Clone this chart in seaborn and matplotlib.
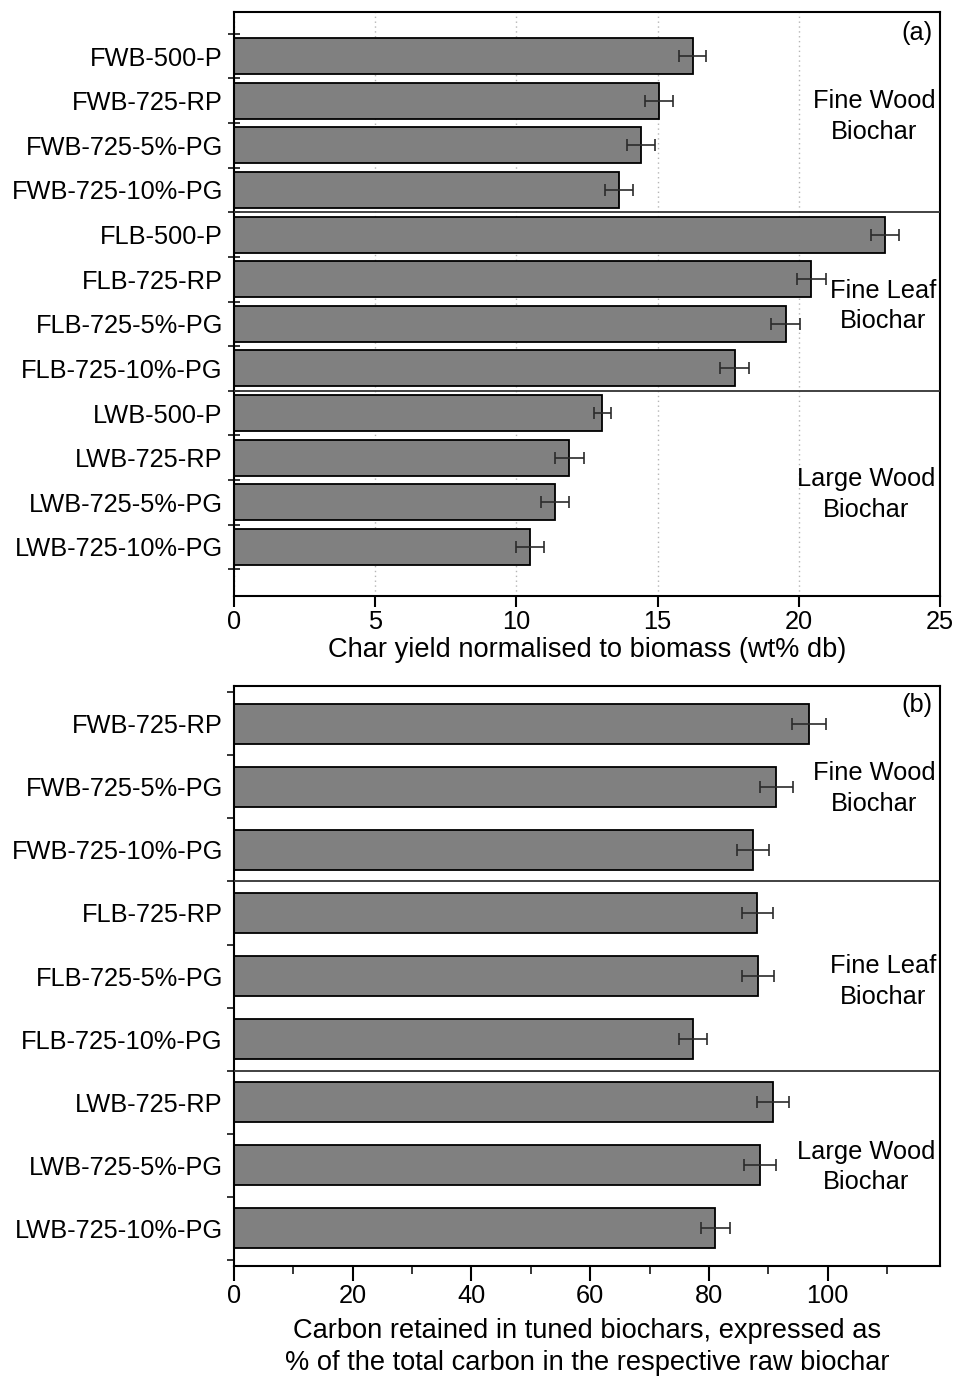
import numpy as np
import pandas as pd
import seaborn as sns
import matplotlib.pyplot as plt
from matplotlib.ticker import FixedLocator, MultipleLocator

# ---- data ----
cats_a = ["FWB-500-P", "FWB-725-RP", "FWB-725-5%-PG", "FWB-725-10%-PG",
          "FLB-500-P", "FLB-725-RP", "FLB-725-5%-PG", "FLB-725-10%-PG",
          "LWB-500-P", "LWB-725-RP", "LWB-725-5%-PG", "LWB-725-10%-PG"]
yield_a = [16.24, 15.04, 14.42, 13.63, 23.04, 20.44, 19.53, 17.73, 13.04, 11.87, 11.36, 10.48]
err_a = [0.48, 0.50, 0.50, 0.51, 0.50, 0.52, 0.51, 0.51, 0.30, 0.51, 0.50, 0.50]

cats_b = ["FWB-725-RP", "FWB-725-5%-PG", "FWB-725-10%-PG",
          "FLB-725-RP", "FLB-725-5%-PG", "FLB-725-10%-PG",
          "LWB-725-RP", "LWB-725-5%-PG", "LWB-725-10%-PG"]
carbon_b = [96.85, 91.35, 87.36, 88.15, 88.3, 77.37, 90.73, 88.65, 81.07]
err_b = [2.86, 2.75, 2.66, 2.66, 2.7, 2.36, 2.73, 2.7, 2.44]

groups = ["Fine Wood\nBiochar", "Fine Leaf\nBiochar", "Large Wood\nBiochar"]
xlabel_a = "Char yield normalised to biomass (wt% db)"
xlabel_b = "Carbon retained in tuned biochars, expressed as\n% of the total carbon in the respective raw biochar"

df_a = pd.DataFrame({"cat": cats_a, "val": yield_a})
df_b = pd.DataFrame({"cat": cats_b, "val": carbon_b})

sns.set_style("white")
plt.rcParams["font.family"] = ["Liberation Sans", "DejaVu Sans"]
plt.rcParams["text.color"] = "black"
plt.rcParams["axes.labelcolor"] = "black"
FS = 18.3
FSL = 19.6

fig = plt.figure(figsize=(9.55, 13.76), dpi=100)
axa = fig.add_axes([0.245, 0.5669, 0.7393, 0.4244])
axb = fig.add_axes([0.245, 0.0803, 0.7393, 0.4212])

BAR = "#808080"
ECOL = "#2b2b2b"


def draw(ax, df, errs, width):
    sns.barplot(data=df, x="val", y="cat", orient="h", color=BAR, saturation=1,
                edgecolor="black", linewidth=1.3, width=width, errorbar=None, ax=ax, zorder=2)
    ax.errorbar(df["val"], np.arange(len(df)), xerr=errs, fmt="none", ecolor=ECOL,
                elinewidth=1.2, capsize=4.0, capthick=1.2, zorder=3)
    ax.set_ylabel("")
    for s in ax.spines.values():
        s.set_visible(True)
        s.set_color("black")
        s.set_linewidth(1.5)
    n = len(df)
    ax.yaxis.set_minor_locator(FixedLocator(np.arange(-0.5, n, 1.0)))
    ax.tick_params(axis="y", which="major", length=0, pad=8, labelsize=FS, colors="black")
    ax.tick_params(axis="x", labelsize=FS, colors="black")


# ---- panel a ----
draw(axa, df_a, err_a, 0.81)
axa.set_xlim(0, 25)
axa.set_ylim(12.1, -0.99)
axa.xaxis.set_major_locator(MultipleLocator(5))
axa.set_axisbelow(True)
axa.xaxis.grid(True, linestyle=(0, (1, 2.5)), color="#b5b5b5", linewidth=1.0, zorder=0)
axa.tick_params(axis="y", which="minor", direction="inout", length=8, width=1.3, left=True)
axa.tick_params(axis="x", which="major", direction="out", length=8, width=1.5, pad=2, bottom=True)
axa.set_xlabel(xlabel_a, fontsize=FSL, labelpad=2.5)
for yy in (3.5, 7.5):
    axa.axhline(yy, color="#333333", linewidth=1.3, zorder=4)
axa.text(24.19, -0.52, "(a)", fontsize=FS, ha="center", va="center")
axa.text(22.66, 1.35, groups[0], fontsize=FS, ha="center", va="center", linespacing=1.35)
axa.text(22.98, 5.6, groups[1], fontsize=FS, ha="center", va="center", linespacing=1.35)
axa.text(22.38, 9.83, groups[2], fontsize=FS, ha="center", va="center", linespacing=1.35)

# ---- panel b ----
draw(axb, df_b, err_b, 0.64)
axb.set_xlim(0, 118.9)
axb.set_ylim(8.59, -0.6)
axb.xaxis.set_major_locator(FixedLocator([0, 20, 40, 60, 80, 100]))
axb.xaxis.set_minor_locator(FixedLocator([10, 30, 50, 70, 90, 110]))
axb.tick_params(axis="y", which="minor", direction="out", length=5, width=1.3, left=True)
axb.tick_params(axis="x", which="major", direction="out", length=11, width=1.5, pad=2.5, bottom=True)
axb.tick_params(axis="x", which="minor", direction="out", length=6, width=1.3, bottom=True)
axb.set_xlabel(xlabel_b, fontsize=FSL, labelpad=7, linespacing=1.3)
for yy in (2.5, 5.5):
    axb.axhline(yy, color="#333333", linewidth=1.3, zorder=4)
axb.text(115.0, -0.3, "(b)", fontsize=FS, ha="center", va="center")
axb.text(107.8, 1.03, groups[0], fontsize=FS, ha="center", va="center", linespacing=1.35)
axb.text(109.3, 4.09, groups[1], fontsize=FS, ha="center", va="center", linespacing=1.35)
axb.text(106.5, 7.03, groups[2], fontsize=FS, ha="center", va="center", linespacing=1.35)

fig.savefig("out.png", dpi=100, facecolor="white")
